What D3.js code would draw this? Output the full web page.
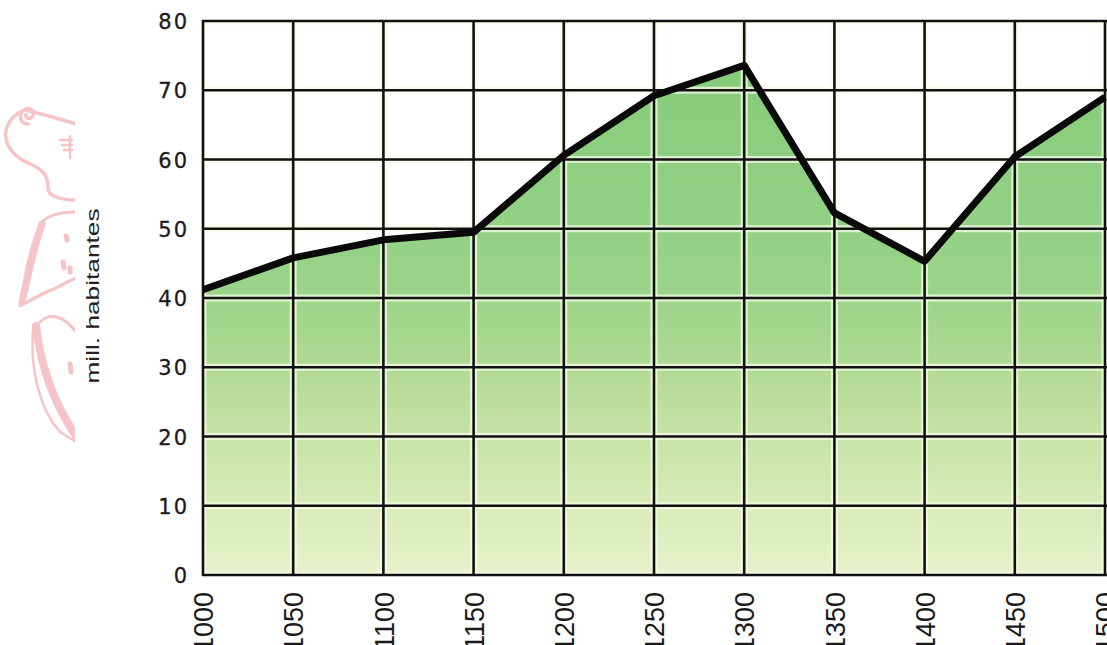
<!DOCTYPE html>
<html>
<head>
<meta charset="utf-8">
<script src="https://cdn.jsdelivr.net/npm/d3@7"></script>
<style>
  html, body { margin: 0; padding: 0; background: #ffffff; }
  svg { display: block; }
</style>
</head>
<body>
<svg id="chart" width="1107" height="645"></svg>
<script>
// Population (millions) by year
const years = [1000, 1050, 1100, 1150, 1200, 1250, 1300, 1350, 1400, 1450, 1500];
const population = [41.2, 45.8, 48.4, 49.5, 60.6, 69.2, 73.6, 52.3, 45.3, 60.4, 69.0];
const yTicks = [0, 10, 20, 30, 40, 50, 60, 70, 80];
const xTickLabels = ["1000", "1050", "1100", "1150", "1200", "1250", "1300", "1350", "1400", "1450", "1500"];
const yAxisTitle = "mill. habitantes";

const svg = d3.select("#chart");
const W = 1107, H = 645;
const plotLeft = 203, plotRight = 1105, plotTop = 21, plotBottom = 575;

const x = d3.scaleLinear().domain([1000, 1500]).range([plotLeft, plotRight]);
const y = d3.scaleLinear().domain([0, 80]).range([plotBottom, plotTop]);

const defs = svg.append("defs");

// Fill shading: deep green at the top fading to pale yellow-green at the base
const grad = defs.append("linearGradient")
  .attr("id", "fillGrad")
  .attr("gradientUnits", "userSpaceOnUse")
  .attr("x1", 0).attr("x2", 0)
  .attr("y1", y(80)).attr("y2", y(0));
[
  [80, "#84ca78"], [70, "#87cc7b"], [60, "#8dcf80"], [50, "#93d184"],
  [40, "#9cd488"], [30, "#b0da93"], [20, "#c6e3a6"], [10, "#d8ebb8"], [0, "#e7f2cc"]
].forEach(([v, c]) => {
  grad.append("stop").attr("offset", (80 - v) / 80).attr("stop-color", c);
});

defs.append("clipPath").attr("id", "plotClip")
  .append("rect").attr("x", plotLeft).attr("y", plotTop)
  .attr("width", W - plotLeft).attr("height", plotBottom - plotTop);

defs.append("clipPath").attr("id", "ornClip")
  .append("rect").attr("x", 0).attr("y", 0).attr("width", 75).attr("height", H);

// Decorative pink ornament on the left margin
const orn = svg.append("g").attr("clip-path", "url(#ornClip)")
  .attr("fill", "none").attr("stroke", "#f6c3c6")
  .attr("stroke-linecap", "round").attr("stroke-linejoin", "round");
// scroll curl and upper outline
orn.append("path").attr("stroke-width", 3.5)
  .attr("d", "M28,124 C20,124 18,114 24,110 C30,106 36,112 32,117 C29,120 25,118 26,115 M24,110 C36,112 56,118 76,124");
orn.append("path").attr("stroke-width", 3.5)
  .attr("d", "M20,112 C10,118 4,128 6,138 C8,150 16,158 30,164 C44,170 48,176 48,188 C48,196 60,200 76,200");
// small sprig
orn.append("path").attr("stroke-width", 2.5)
  .attr("d", "M60,140 L72,140 M62,145 L72,145 M64,150 L72,150 M70,136 L70,158");
// leaf shape
orn.append("path").attr("stroke-width", 3)
  .attr("d", "M76,212 C60,212 48,216 42,222 C32,240 26,270 20,306 C34,298 46,292 56,288 C64,284 70,280 76,278");
orn.append("path").attr("stroke-width", 7)
  .attr("d", "M42,224 C34,246 28,276 22,302");
orn.append("path").attr("stroke-width", 5)
  .attr("d", "M66,236 L67,240 M63,262 L64,268 M70,268 L70,272");
// lower stem
orn.append("path").attr("stroke-width", 3)
  .attr("d", "M40,322 C50,312 64,316 76,332");
orn.append("path").attr("stroke-width", 8)
  .attr("d", "M36,326 C40,362 52,400 76,436");
orn.append("path").attr("stroke-width", 2.5)
  .attr("d", "M33,330 C30,370 40,410 60,432 L76,442");
orn.append("path").attr("stroke-width", 5)
  .attr("d", "M70,364 L71,372");

// Area under the curve
const area = d3.area()
  .x((d, i) => x(years[i]))
  .y0(y(0))
  .y1(d => y(d));
svg.append("path")
  .datum(population)
  .attr("clip-path", "url(#plotClip)")
  .attr("fill", "url(#fillGrad)")
  .attr("d", area);

// Grid: a pale seam under each black rule
const grid = svg.append("g").attr("clip-path", "url(#plotClip)");
grid.selectAll("line.hs").data(yTicks).join("line")
  .attr("x1", plotLeft).attr("x2", W).attr("y1", d => y(d)).attr("y2", d => y(d))
  .attr("stroke", "rgba(246,252,232,0.75)").attr("stroke-width", 7);
grid.selectAll("line.vs").data(years).join("line")
  .attr("y1", plotTop).attr("y2", plotBottom).attr("x1", d => x(d)).attr("x2", d => x(d))
  .attr("stroke", "rgba(246,252,232,0.75)").attr("stroke-width", 7);

svg.append("g").selectAll("line").data(yTicks).join("line")
  .attr("x1", plotLeft - 1).attr("x2", W).attr("y1", d => y(d)).attr("y2", d => y(d))
  .attr("stroke", "#111").attr("stroke-width", 2.6);
svg.append("g").selectAll("line").data(years).join("line")
  .attr("y1", plotTop - 1).attr("y2", plotBottom + 1).attr("x1", d => x(d)).attr("x2", d => x(d))
  .attr("stroke", "#111").attr("stroke-width", 2.6);

// Population line
const line = d3.line()
  .x((d, i) => x(years[i]))
  .y(d => y(d));
svg.append("path")
  .datum(population)
  .attr("fill", "none")
  .attr("stroke", "#0a0a0a")
  .attr("stroke-width", 7)
  .attr("stroke-linejoin", "round")
  .attr("stroke-linecap", "butt")
  .attr("clip-path", "url(#plotClip)")
  .attr("d", line);

// Y tick labels
const yAxis = d3.axisLeft(y).tickValues(yTicks).tickSize(0).tickPadding(0)
  .tickFormat(d3.format("d"));
const gy = svg.append("g").attr("transform", `translate(${plotLeft - 16},0)`).call(yAxis);
gy.select(".domain").remove();
gy.selectAll("text")
  .attr("fill", "#1a1a1a")
  .attr("font-family", "'DejaVu Sans', sans-serif")
  .attr("font-size", 21)
  .attr("letter-spacing", "2px")
  .attr("stroke", "#1a1a1a")
  .attr("stroke-width", 0.3)
  .attr("dx", 2)
  .attr("dy", "0.36em");

// X tick labels, rotated
const xAxis = d3.axisBottom(x).tickValues(years).tickSize(0).tickPadding(0)
  .tickFormat((d, i) => xTickLabels[i]);
const gx = svg.append("g").attr("transform", `translate(0,${plotBottom})`).call(xAxis);
gx.select(".domain").remove();
gx.selectAll("text")
  .attr("fill", "#1a1a1a")
  .attr("font-family", "'Liberation Sans', Arial, sans-serif")
  .attr("font-size", 27)
  .attr("text-anchor", "end")
  .attr("transform", "rotate(-90)")
  .attr("x", -17)
  .attr("y", 0)
  .attr("dy", "0.36em");

// Y axis title
svg.append("text")
  .attr("transform", `translate(99,296) rotate(-90)`)
  .attr("text-anchor", "middle")
  .attr("fill", "#222")
  .attr("font-family", "'Liberation Sans', Arial, sans-serif")
  .attr("font-size", 18)
  .attr("textLength", 175)
  .attr("lengthAdjust", "spacingAndGlyphs")
  .text(yAxisTitle);
</script>
</body>
</html>
